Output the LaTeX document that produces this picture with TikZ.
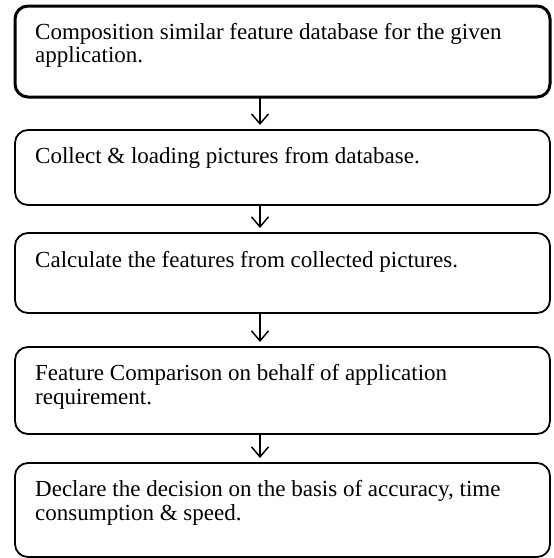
\documentclass[tikz,border=0pt]{standalone}
\usepackage{fontspec}
\setmainfont{Liberation Serif}
\usetikzlibrary{arrows.meta}
\begin{document}
\begin{tikzpicture}[x=1pt,y=-1pt,
  stepbox/.style={draw=black,line width=1.8pt,rounded corners=13pt,
    minimum width=535pt,inner sep=0pt,outer sep=0pt},
  firstbox/.style={stepbox,line width=3pt},
  steptext/.style={anchor=base west,inner sep=0pt,align=left,
    font=\fontsize{23}{23.2}\selectfont},
  flow/.style={line width=1.5pt,-{Straight Barb[length=10pt,width=17pt,line width=1.5pt]},shorten >=5pt}]
\useasboundingbox (0,0) rectangle (554,558);
% boxes
\node[firstbox,minimum height=91pt] (b1) at (282.5,51.5) {};
\node[stepbox,minimum height=75pt] (b2) at (282.5,167.5) {};
\node[stepbox,minimum height=80pt] (b3) at (282.5,273) {};
\node[stepbox,minimum height=87pt] (b4) at (282.5,390.5) {};
\node[stepbox,minimum height=94pt] (b5) at (282.5,510) {};
% texts (multi-line texts are placed at the baseline of their last line)
\node[steptext] (t1) at (35,62.5) {Composition similar feature database for the given\\application.};
\node[steptext] (t2) at (35,163) {Collect \& loading pictures from database.};
\node[steptext] (t3) at (35,267) {Calculate the features from collected pictures.};
\node[steptext] (t4) at (35,404) {Feature Comparison on behalf of application\\requirement.};
\node[steptext] (t5) at (35,520) {Declare the decision on the basis of accuracy, time\\consumption \& speed.};
% arrows
\coordinate (ax) at (260,0);
\draw[flow] (b1.south -| ax) -- (b2.north -| ax);
\draw[flow] (b2.south -| ax) -- (b3.north -| ax);
\draw[flow] (b3.south -| ax) -- (b4.north -| ax);
\draw[flow] (b4.south -| ax) -- (b5.north -| ax);
\end{tikzpicture}
\end{document}
